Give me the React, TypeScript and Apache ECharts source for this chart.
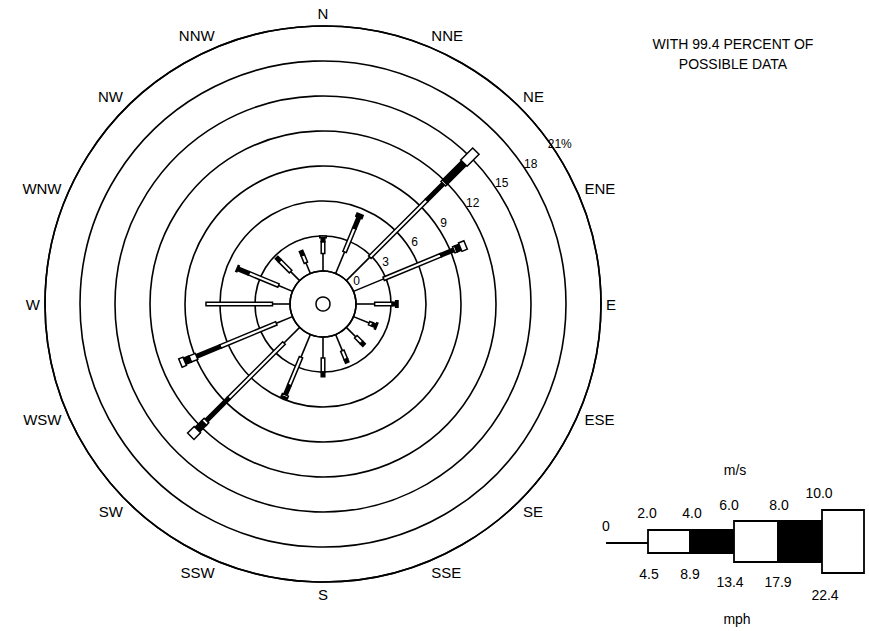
import React, { useEffect, useRef } from 'react';
import * as echarts from 'echarts';

const DIRECTIONS = ['N', 'NNE', 'NE', 'ENE', 'E', 'ESE', 'SE', 'SSE', 'S', 'SSW', 'SW', 'WSW', 'W', 'WNW', 'NW', 'NNW'];
// percent of time per direction and speed class (m/s)
const SPEED_0_2 = [1.5, 2.0, 2.85, 2.8, 1.6, 1.45, 1.15, 1.5, 1.8, 2.1, 1.9, 1.5, 1.5, 1.3, 1.1, 1.0];
const SPEED_2_4 = [1.0, 2.2, 6.9, 5.3, 1.5, 0.3, 0.7, 0.8, 1.2, 2.6, 6.7, 5.2, 5.7, 2.75, 1.3, 0.7];
const SPEED_4_6 = [0.35, 1.0, 2.0, 1.2, 0.3, 0.3, 0.3, 0.3, 0.4, 0.9, 2.7, 2.2, 0.0, 1.0, 0.4, 0.4];
const SPEED_6_8 = [0.15, 0.1, 0.2, 0.2, 0.1, 0.1, 0, 0, 0, 0.2, 0.3, 0.6, 0, 0.1, 0, 0];
const SPEED_8_10 = [0, 0.2, 2.3, 0.4, 0.1, 0, 0, 0, 0, 0.1, 0.8, 0.5, 0, 0, 0, 0];
const SPEED_10P = [0, 0, 1.45, 0.5, 0, 0, 0, 0, 0, 0, 0.8, 0.4, 0, 0, 0, 0];
const RING_TICKS = [0, 3, 6, 9, 12, 15, 18, 21];
const MS_LABELS = ['0', '2.0', '4.0', '6.0', '8.0', '10.0'];
const MPH_LABELS = ['4.5', '8.9', '13.4', '17.9', '22.4'];
const TITLE_LINES = ['WITH 99.4 PERCENT OF', 'POSSIBLE DATA'];

const FONT = 'Liberation Sans, Arial, sans-serif';
const SEG_WIDTH = [0, 3.6, 3.6, 6.5, 6.5, 9];
const SEG_FILL = ['', '#fff', '#000', '#fff', '#000', '#fff'];
const RING_LABEL_ANGLE = 56;

export default function App() {
  const ref = useRef<HTMLDivElement>(null);
  useEffect(() => {
    if (!ref.current) return;
    const chart = echarts.init(ref.current, null, { renderer: 'svg' });
    const roseData = DIRECTIONS.map((d, i) => [
      i * 22.5,
      SPEED_0_2[i],
      SPEED_2_4[i],
      SPEED_4_6[i],
      SPEED_6_8[i],
      SPEED_8_10[i],
      SPEED_10P[i],
    ]);

    const renderRose = (params: any, api: any) => {
      const ang = api.value(0);
      const vals = [1, 2, 3, 4, 5, 6].map((k) => Number(api.value(k)) || 0);
      const cum = [0];
      vals.forEach((v) => cum.push(cum[cum.length - 1] + v));
      const p0 = api.coord([0, ang]);
      const p1 = api.coord([1, ang]);
      const dx = p1[0] - p0[0];
      const dy = p1[1] - p0[1];
      const len = Math.hypot(dx, dy) || 1;
      const nx = -dy / len;
      const ny = dx / len;
      const children: any[] = [];
      const pl = api.coord([cum[1], ang]);
      children.push({
        type: 'line',
        shape: { x1: p0[0], y1: p0[1], x2: pl[0], y2: pl[1] },
        style: { stroke: '#000', lineWidth: 1.6 },
      });
      for (let k = 1; k < 6; k++) {
        if (vals[k] <= 0) continue;
        const a = api.coord([cum[k], ang]);
        const b = api.coord([cum[k + 1], ang]);
        const hw = SEG_WIDTH[k] / 2;
        children.push({
          type: 'polygon',
          shape: {
            points: [
              [a[0] + nx * hw, a[1] + ny * hw],
              [b[0] + nx * hw, b[1] + ny * hw],
              [b[0] - nx * hw, b[1] - ny * hw],
              [a[0] - nx * hw, a[1] - ny * hw],
            ],
          },
          style: { fill: SEG_FILL[k], stroke: '#000', lineWidth: 1.5 },
        });
      }
      return { type: 'group', children };
    };

    const renderRingLabel = (params: any, api: any) => {
      const v = api.value(0);
      const p = api.coord([v + 0.65, api.value(1)]);
      return {
        type: 'text',
        x: p[0],
        y: p[1],
        style: {
          text: v === 21 ? '21%' : String(v),
          fill: '#000',
          fontSize: 12,
          fontFamily: FONT,
          align: 'center',
          verticalAlign: 'middle',
        },
      };
    };

    const legendGraphics: any[] = [];
    const boxX = [648, 690, 734, 778, 822, 864];
    const boxTop = [530, 530, 521, 521, 510];
    const boxBot = [553, 553, 562, 562, 573];
    const boxFill = ['#fff', '#000', '#fff', '#000', '#fff'];
    legendGraphics.push({
      type: 'line',
      shape: { x1: 606, y1: 543, x2: 648, y2: 543 },
      style: { stroke: '#000', lineWidth: 1.8 },
    });
    for (let i = 0; i < 5; i++) {
      legendGraphics.push({
        type: 'rect',
        shape: { x: boxX[i], y: boxTop[i], width: boxX[i + 1] - boxX[i], height: boxBot[i] - boxTop[i] },
        style: { fill: boxFill[i], stroke: '#000', lineWidth: 1.8 },
      });
    }
    const msPos = [[606, 526], [647, 513], [692, 513], [729, 505], [779, 505], [819, 493]];
    MS_LABELS.forEach((t, i) => {
      legendGraphics.push({
        type: 'text',
        x: msPos[i][0],
        y: msPos[i][1],
        style: { text: t, fill: '#000', fontSize: 14, fontFamily: FONT, align: 'center', verticalAlign: 'middle' },
      });
    });
    const mphPos = [[649, 574], [690, 574], [730, 582], [778, 582], [825, 595]];
    MPH_LABELS.forEach((t, i) => {
      legendGraphics.push({
        type: 'text',
        x: mphPos[i][0],
        y: mphPos[i][1],
        style: { text: t, fill: '#000', fontSize: 14, fontFamily: FONT, align: 'center', verticalAlign: 'middle' },
      });
    });
    legendGraphics.push({
      type: 'text', x: 735, y: 470,
      style: { text: 'm/s', fill: '#000', fontSize: 14, fontFamily: FONT, align: 'center', verticalAlign: 'middle' },
    });
    legendGraphics.push({
      type: 'text', x: 737, y: 619,
      style: { text: 'mph', fill: '#000', fontSize: 14, fontFamily: FONT, align: 'center', verticalAlign: 'middle' },
    });
    TITLE_LINES.forEach((t, i) => {
      legendGraphics.push({
        type: 'text', x: 733, y: 44 + i * 20,
        style: { text: t, fill: '#000', fontSize: 14, fontFamily: FONT, align: 'center', verticalAlign: 'middle' },
      });
    });
    legendGraphics.push({
      type: 'circle',
      shape: { cx: 323, cy: 304, r: 7 },
      style: { fill: '#fff', stroke: '#000', lineWidth: 1.5 },
    });

    const option: any = {
      animation: false,
      backgroundColor: '#fff',
      textStyle: { fontFamily: FONT },
      polar: { center: [323, 304], radius: [33, 278] },
      angleAxis: {
        type: 'value',
        min: 0,
        max: 360,
        interval: 22.5,
        startAngle: 90,
        clockwise: true,
        axisLine: { show: true, lineStyle: { color: '#000', width: 1.6 } },
        axisTick: { show: false },
        axisLabel: {
          show: true,
          margin: 5,
          color: '#000',
          fontSize: 15,
          fontFamily: FONT,
          formatter: (v: number) => (v >= 360 ? '' : DIRECTIONS[Math.round(v / 22.5) % 16]),
        },
        splitLine: { show: false },
      },
      radiusAxis: {
        type: 'value',
        min: 0,
        max: 21,
        interval: 3,
        axisLine: { show: false },
        axisTick: { show: false },
        axisLabel: { show: false },
        splitLine: { show: true, lineStyle: { color: '#000', width: 1.6 } },
      },
      series: [
        {
          type: 'custom',
          coordinateSystem: 'polar',
          encode: { angle: 0, radius: 1 },
          data: roseData,
          renderItem: renderRose,
          silent: true,
        },
        {
          type: 'custom',
          coordinateSystem: 'polar',
          encode: { radius: 0, angle: 1 },
          data: RING_TICKS.map((v) => [v, RING_LABEL_ANGLE]),
          renderItem: renderRingLabel,
          silent: true,
        },
      ],
      graphic: legendGraphics,
    };
    chart.setOption(option);
    return () => chart.dispose();
  }, []);
  return <div ref={ref} style={{ position: 'absolute', left: 0, top: 0, width: 869, height: 631 }} />;
}
